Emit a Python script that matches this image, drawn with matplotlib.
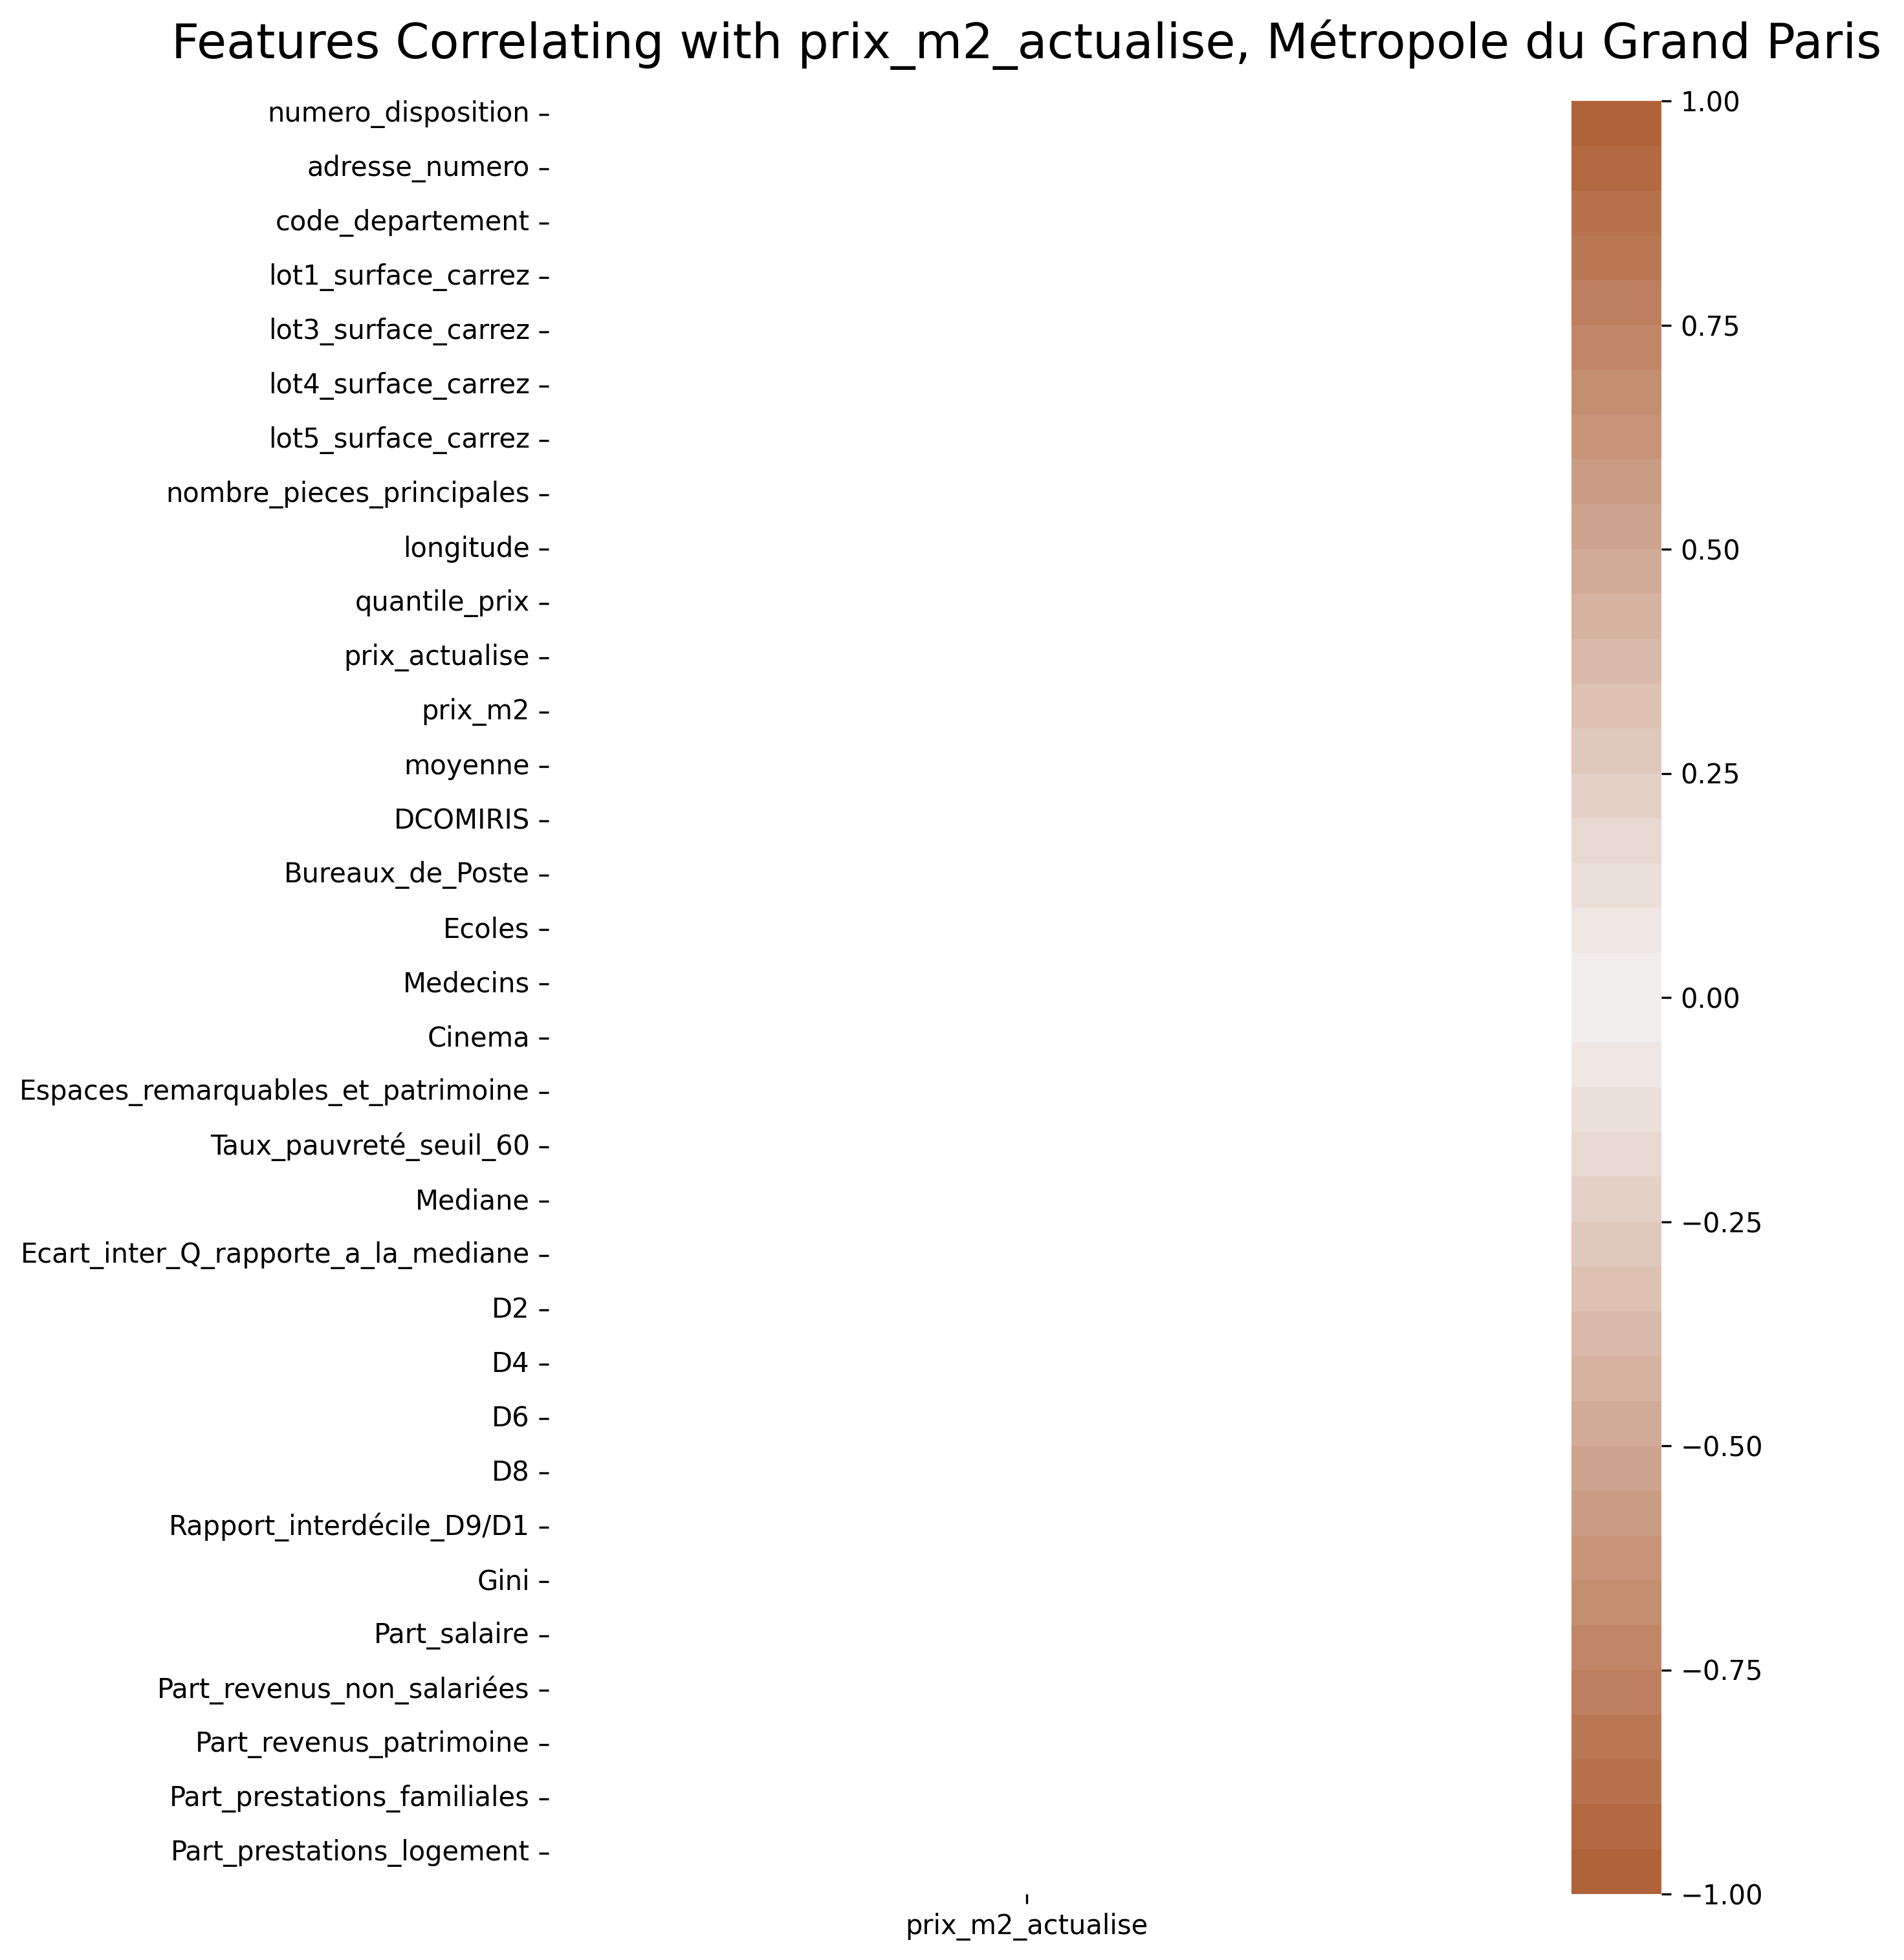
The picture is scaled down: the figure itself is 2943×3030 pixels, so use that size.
import numpy as np
import pandas as pd
import matplotlib
matplotlib.use("Agg")
import matplotlib.pyplot as plt
import seaborn as sns
from seaborn.external import husl

# ---- data ----
features = [
    "numero_disposition", "valeur_fonciere", "adresse_numero", "code_postal",
    "code_departement", "code_commune", "lot1_surface_carrez", "lot2_surface_carrez",
    "lot3_surface_carrez", "lot4_numero", "lot4_surface_carrez", "lot5_numero",
    "lot5_surface_carrez", "surface_reelle_bati", "nombre_pieces_principales",
    "surface_terrain", "longitude", "latitude", "quantile_prix", "indice_prix",
    "prix_actualise", "surface_carrez_totale", "prix_m2", "nb_mutations",
    "moyenne", "ecart_type", "DCOMIRIS", "Banques", "Bureaux_de_Poste", "Creches",
    "Ecoles", "Colleges_Lycees", "Medecins", "Pharmacies", "Cinema", "Bibliotheques",
    "Espaces_remarquables_et_patrimoine", "Nb_menages_fiscaux",
    "Taux_pauvreté_seuil_60", "Premier_quartile", "Mediane", "Troisieme_quartile",
    "Ecart_inter_Q_rapporte_a_la_mediane", "D1", "D2", "D3", "D4", "D5", "D6", "D7",
    "D8", "D9", "Rapport_interdécile_D9/D1", "S80/S20", "Gini",
    "Part_revenus_activite", "Part_salaire", "Part_indemnites_chomage",
    "Part_revenus_non_salariées", "Part_pensions_retraites", "Part_revenus_patrimoine",
    "Part_prestations_sociales", "Part_prestations_familiales", "Part_minima_sociaux",
    "Part_prestations_logement", "Part_impots",
]
target = "prix_m2_actualise"
# correlations are not displayed in the reference (all cells empty)
correlations = [np.nan] * len(features)

title = "Features Correlating with prix_m2_actualise, Métropole du Grand Paris"

# ---- figure ----
W, H = 2943, 3030
dpi = 300
fig = plt.figure(figsize=(W / dpi, H / dpi), dpi=dpi)

ax_l, ax_r, ax_t, ax_b = 848, 2326, 156, 2928
cb_l, cb_r = 2429, 2568
ax = fig.add_axes([ax_l / W, 1 - ax_b / H, (ax_r - ax_l) / W, (ax_b - ax_t) / H])
cax = fig.add_axes([cb_l / W, 1 - ax_b / H, (cb_r - cb_l) / W, (ax_b - ax_t) / H])

# diverging palette whose extreme colour is the reference's brown
end_rgb = (176 / 255, 98 / 255, 57 / 255)
h_, s_, l_ = husl.rgb_to_husl(*end_rgb)
cmap = sns.diverging_palette(h_, h_, s=s_, l=l_, n=40)

df = pd.DataFrame({target: correlations}, index=features)
sns.heatmap(df, vmin=-1, vmax=1, cmap=cmap, ax=ax, cbar_ax=cax,
            yticklabels=2, xticklabels=True)

ax.set_title(title, fontsize=18, pad=15.8)
ax.tick_params(axis="y", labelsize=10)
ax.tick_params(axis="x", labelsize=10)
cax.tick_params(labelsize=10)

fig.savefig("out.png", dpi=dpi)
